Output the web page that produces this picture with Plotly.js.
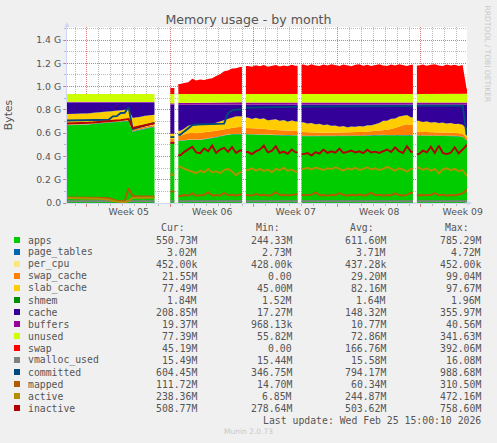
<!DOCTYPE html>
<html><head><meta charset="utf-8">
<script src="https://cdn.plot.ly/plotly-3.0.1.min.js"></script>
<style>html,body{margin:0;padding:0;background:#f0f0f0;overflow:hidden}#chart{width:497px;height:443px}</style>
</head><body><div id="chart"></div>
<script>
// One sample every 8 hours, x = hours since the left edge of the window; null = no data. Values in MiB.
const STEP_H = 8;
const X_RANGE_H = 804.8;
const weekBounds = [40.2, 208.2, 376.2, 544.2, 712.2];
const weekLabelPos = [124.2, 292.2, 460.2, 628.2, 796.2];
const weekLabels = ['Week 05', 'Week 06', 'Week 07', 'Week 08', 'Week 09'];
const yTickVals = [0, 0.2, 0.4, 0.6, 0.8, 1.0, 1.2, 1.4];
const yTickText = ['0.0', '0.2 G', '0.4 G', '0.6 G', '0.8 G', '1.0 G', '1.2 G', '1.4 G'];

const apps = [683,683,686,687,687,689,694,696,698,702,704,707,712,714,717,722,627,635,645,655,661,666,
 null,null,null,null,528,null,
 546,549,554,557,554,554,559,561,569,576,585,595,600,604,604,605,null,
 604,603,602,602,600,598,598,596,595,595,594,593,593,null,
 588,587,587,586,585,585,584,584,585,585,586,586,587,588,589,590,592,594,595,595,596,595,595,594,595,596,595,594,null,
 593,592,592,591,590,590,590,589,589,588,585,580,550.73];
const page_tables = [4.6,4.6,4.5,4.5,4.6,4.5,4.4,4.5,4.5,4.4,4.5,4.6,4.5,4.4,4.5,4.7,4.2,4.1,4.2,4.2,4.1,4.2,
 null,null,null,null,2.8,null,
 3.1,3.3,3.4,3.5,3.4,3.5,3.6,3.5,3.5,3.6,3.5,3.6,3.7,3.6,3.5,3.6,null,
 3.5,3.6,3.5,3.4,3.5,3.6,3.5,3.5,3.4,3.5,3.6,3.5,3.4,null,
 3.4,3.5,3.5,3.6,3.5,3.4,3.5,3.5,3.6,3.5,3.4,3.5,3.5,3.6,3.5,3.5,3.4,3.5,3.6,3.5,3.5,3.4,3.5,3.6,3.5,3.5,3.4,3.5,null,
 3.4,3.5,3.5,3.4,3.5,3.5,3.4,3.5,3.4,3.5,3.4,3.3,3.02];
const per_cpu = [0.42,0.42,0.42,0.42,0.42,0.42,0.42,0.42,0.42,0.42,0.42,0.42,0.42,0.42,0.42,0.42,0.42,0.42,0.42,0.42,0.42,0.42,
 null,null,null,null,0.43,null,
 0.44,0.44,0.44,0.44,0.44,0.44,0.44,0.44,0.44,0.44,0.44,0.44,0.44,0.44,0.44,0.44,null,
 0.44,0.44,0.44,0.44,0.44,0.44,0.44,0.44,0.44,0.44,0.44,0.44,0.44,null,
 0.44,0.44,0.44,0.44,0.44,0.44,0.44,0.44,0.44,0.44,0.44,0.44,0.44,0.44,0.44,0.44,0.44,0.44,0.44,0.44,0.44,0.44,0.44,0.44,0.44,0.44,0.44,0.44,null,
 0.44,0.44,0.44,0.44,0.44,0.44,0.44,0.44,0.44,0.44,0.44,0.44,0.44];
const swap_cache = [0,0,0,0,0,0,0,0,0,0,0,0,0,0,0,0,24,19,16,14,13,13,
 null,null,null,null,31,null,
 39,51,56,59,56,59,57,58,54,55,54,51,53,56,59,59,null,
 52,51,50,49,48,45,43,43,42,40,39,38,36,null,
 33,32,32,31,31,30,30,30,29,29,29,29,30,30,31,31,32,32,33,36,40,46,52,60,72,85,95,88,null,
 30,30,29,29,28,28,27,27,26,26,25,24,21.55];
const slab_cache = [94,94,93,93,94,94,94,94,94,94,95,95,94,95,96,96,92,92,92,92,92,92,
 null,null,null,null,46,null,
 46,49,65,66,68,71,66,67,67,70,77,80,83,90,94,94,null,
 90,80,92,82,91,79,88,93,80,89,78,90,84,null,
 84,75,80,70,76,66,71,60,62,52,56,46,50,46,51,47,54,52,61,67,83,78,89,84,89,79,79,66,null,
 95,86,92,83,89,80,86,78,84,76,82,79,77.49];
const shmem = [1.55,1.55,1.55,1.55,1.55,1.55,1.55,1.55,1.55,1.55,1.55,1.55,1.55,1.55,1.55,1.55,1.55,1.55,1.55,1.55,1.55,1.55,
 null,null,null,null,1.6,null,
 1.6,1.6,1.6,1.6,1.6,1.6,1.6,1.6,1.6,1.6,1.6,1.6,1.6,1.6,1.6,1.6,null,
 1.65,1.65,1.65,1.65,1.65,1.65,1.65,1.65,1.65,1.65,1.65,1.65,1.65,null,
 1.65,1.65,1.65,1.65,1.65,1.65,1.65,1.65,1.65,1.65,1.65,1.65,1.65,1.65,1.65,1.65,1.65,1.65,1.65,1.65,1.65,1.65,1.65,1.65,1.65,1.65,1.65,1.65,null,
 1.7,1.7,1.7,1.7,1.7,1.7,1.7,1.7,1.7,1.7,1.7,1.7,1.84];
const cache = [101,101,99,98,97,95,90,88,86,82,79,76,72,69,65,60,135,132,125,117,112,107,
 null,null,null,null,255,null,
 229,211,185,178,182,176,178,174,170,159,144,134,124,110,103,102,null,
 114,126,116,127,121,138,131,128,143,136,149,139,147,null,
 155,166,161,173,168,179,175,186,184,194,189,199,193,196,189,192,182,182,171,162,141,141,124,122,104,100,91,112,null,
 142,152,147,157,153,162,157,166,161,170,168,177,208.85];
const buffers = [5.2,5.1,5.0,5.0,4.9,5.0,5.1,5.0,4.9,5.0,5.2,5.1,5.0,4.8,4.9,5.0,6.1,5.8,5.6,5.4,5.3,5.2,
 null,null,null,null,12,null,
 15,17,18,18,19,19,18,19,19,20,19,19,20,19,19,20,null,
 19,19,20,19,19,20,19,19,20,19,19,20,19,null,
 19,20,19,19,20,19,19,20,19,19,20,19,19,20,19,19,20,19,19,20,19,19,20,19,19,20,19,19,null,
 19,20,19,19,20,19,19,20,19,19,20,19,19.37];
const unused = [69.8,69.9,70,70,70.1,70,69.9,70,70.1,70,69.8,69.9,70,70.2,70.1,70,68.9,69.2,69.4,69.6,69.7,69.8,
 null,null,null,null,82,null,
 79,77,76,76,75,75,76,75,75,74,75,75,74,75,75,74,null,
 75,75,74,75,75,74,75,75,74,75,75,74,75,null,
 75,74,75,75,74,75,75,74,75,75,74,75,75,74,75,75,74,75,75,74,75,75,74,75,75,74,75,75,null,
 75,74,75,75,74,75,75,74,75,75,74,75,77.39];
const swap = [0,0,0,0,0,0,0,0,0,0,0,0,0,0,0,0,0,0,0,0,0,0,
 null,null,null,null,53,null,
 88,96,103,134,118,127,122,132,138,158,174,199,205,224,226,236,null,
 246,238,252,243,254,240,250,255,242,251,244,256,248,null,
 258,247,260,250,246,259,249,262,252,245,258,254,244,256,260,248,257,246,255,261,250,245,258,249,262,251,246,257,null,
 250,259,247,256,262,249,245,258,251,257,246,254,45.19];
const vmalloc_used = [15.6,15.6,15.6,15.7,15.6,15.6,15.6,15.7,15.6,15.6,15.6,15.6,15.7,15.6,15.6,15.8,15.5,15.5,15.5,15.5,15.5,15.5,
 null,null,null,null,15.5,null,
 15.5,15.6,15.5,15.5,15.6,15.5,15.5,15.6,15.5,15.5,15.6,15.5,15.5,15.6,15.5,15.5,null,
 15.6,15.5,15.5,15.6,15.5,15.5,15.6,15.5,15.5,15.6,15.5,15.5,15.6,null,
 15.5,15.5,15.6,15.5,15.5,15.6,15.5,15.5,15.6,15.5,15.5,15.6,15.5,15.5,15.6,15.5,15.5,15.6,15.5,15.5,15.6,15.5,15.5,15.6,15.5,15.5,15.6,15.5,null,
 15.5,15.6,15.5,15.5,15.6,15.5,15.5,15.6,15.5,15.5,15.6,15.5,15.49];
const committed = [726,727,727,728,728,729,729,730,731,731,732,762,764,792,794,845,650,662,672,680,690,705,
 null,null,null,null,580,null,
 600,630,660,685,690,692,692,693,694,695,696,698,790,815,820,822,null,
 838,840,841,842,842,843,843,844,844,845,845,846,846,null,
 848,848,849,849,849,850,850,850,850,851,851,851,851,851,852,852,852,852,852,852,853,853,853,853,853,853,853,853,null,
 855,855,855,855,855,855,855,855,855,855,855,855,604.45];
const mapped = [48,50,49,49,48,48,47,47,45,44,42,30,20,15,14.7,130,62,60,58,57,57,56,
 null,null,null,null,100,null,
 62,70,66,85,64,68,72,95,66,70,65,90,68,72,66,75,null,
 70,65,80,68,72,66,70,98,68,72,66,70,78,null,
 70,66,72,95,68,70,65,72,68,88,70,66,72,68,75,66,70,92,68,72,66,70,68,85,70,66,72,90,null,
 68,72,66,70,88,68,72,66,70,68,75,85,111.72];
const active = [44,42,41,41,40,40,39,38,36,34,30,20,12,8,6.85,20,45,47,46,47,46,47,
 null,null,null,null,250,null,
 320,300,290,275,262,285,270,300,268,280,262,290,300,278,245,270,null,
 290,305,285,300,280,295,270,300,288,310,282,295,275,null,
 300,310,295,312,300,290,305,298,315,300,285,305,295,310,290,300,315,295,305,290,300,318,300,285,305,295,275,300,null,
 310,292,305,285,300,260,295,305,288,300,280,290,238.36];
const inactive = [700,701,702,703,704,706,708,710,713,716,719,722,726,729,733,738,660,668,678,688,696,702,
 null,null,null,null,529,null,
 420,450,470,495,445,438,480,455,505,440,470,485,450,492,440,462,null,
 448,430,455,470,505,445,458,500,440,452,432,470,445,null,
 430,440,418,448,435,470,440,455,442,478,440,450,462,445,455,438,468,445,452,440,458,470,448,490,455,440,500,450,null,
 430,460,445,495,440,505,440,430,442,490,438,470,508.77];

// legend table
const legendNames = ['apps','page_tables','per_cpu','swap_cache','slab_cache','shmem','cache','buffers','unused','swap','vmalloc_used','committed','mapped','active','inactive'];
const curVals = ['550.73M','3.02M','452.00k','21.55M','77.49M','1.84M','208.85M','19.37M','77.39M','45.19M','15.49M','604.45M','111.72M','238.36M','508.77M'];
const minVals = ['244.33M','2.73M','428.00k','0.00','45.00M','1.52M','17.27M','968.13k','55.82M','0.00','15.44M','346.75M','14.70M','6.85M','278.64M'];
const avgVals = ['611.60M','3.71M','437.28k','29.20M','82.16M','1.64M','148.32M','10.77M','72.86M','166.76M','15.58M','794.17M','60.34M','244.87M','503.62M'];
const maxVals = ['785.29M','4.72M','452.00k','99.04M','97.67M','1.96M','355.97M','40.56M','341.63M','392.06M','16.08M','988.68M','310.50M','472.16M','758.60M'];

// styles
const colors = {apps:'#00CC00',page_tables:'#0066B3',per_cpu:'#FFE680',swap_cache:'#FF8000',slab_cache:'#FFCC00',shmem:'#008F00',cache:'#330099',buffers:'#990099',unused:'#CCFF00',swap:'#FF0000',vmalloc_used:'#808080',committed:'#00487D',mapped:'#B35A00',active:'#B38F00',inactive:'#B30000'};
const series = {apps,page_tables,per_cpu,swap_cache,slab_cache,shmem,cache,buffers,unused,swap,vmalloc_used,committed,mapped,active,inactive};
const stackOrder = ['apps','page_tables','per_cpu','swap_cache','slab_cache','shmem','cache','buffers','unused','swap'];
const lineOrder = ['vmalloc_used','committed','mapped','active','inactive'];

const N = apps.length;
const hours = apps.map((_, i) => i * STEP_H);
const runs = [];
let st = null;
for (let i = 0; i < N; i++) {
  if (apps[i] !== null) { if (st === null) st = i; }
  else if (st !== null) { runs.push([st, i - 1]); st = null; }
}
if (st !== null) runs.push([st, N - 1]);

// each sample is drawn at the middle of its interval; a run is held flat out to its interval edges
function runX(a, b) {
  const xs = [hours[a]];
  for (let i = a; i <= b; i++) xs.push(hours[i] + STEP_H / 2);
  xs.push(hours[b] + STEP_H);
  return xs;
}
function runY(vals) { return [vals[0]].concat(vals, [vals[vals.length - 1]]); }

const traces = [];
runs.forEach(([a, b]) => {
  const xs = runX(a, b);
  const cum = new Array(b - a + 1).fill(0);
  stackOrder.forEach((name, k) => {
    const d = series[name];
    const vals = [];
    for (let i = a; i <= b; i++) { cum[i - a] += d[i]; vals.push(cum[i - a] / 1024); }
    traces.push({x: xs, y: runY(vals), type: 'scatter', mode: 'lines', line: {width: 0, color: colors[name]},
      fill: k === 0 ? 'tozeroy' : 'tonexty', fillcolor: colors[name], hoverinfo: 'skip', showlegend: false});
  });
});
runs.forEach(([a, b]) => {
  const xs = runX(a, b);
  lineOrder.forEach(name => {
    const vals = series[name].slice(a, b + 1).map(v => v / 1024);
    traces.push({x: xs, y: runY(vals), type: 'scatter', mode: 'lines', line: {width: 1.9, color: colors[name]},
      hoverinfo: 'skip', showlegend: false});
  });
});
traces.push({x: [weekBounds[0]], y: [0], xaxis: 'x2', type: 'scatter', mode: 'markers', marker: {opacity: 0}, hoverinfo: 'skip', showlegend: false});

// geometry helpers (pixel -> paper)
const PL = 67, PT = 27, PW = 400, PH = 176;
const px2x = p => (p - PL) / PW;
const py2y = p => (PT + PH - p) / PH;

const txt = '#555555';
const mono = 'DejaVu Sans Mono';
const annotations = [];
const shapes = [];
const colEnds = [199, 294, 388, 483];
const headers = ['Cur:', 'Min:', 'Avg:', 'Max:'];
headers.forEach((h, c) => annotations.push({xref: 'paper', yref: 'paper', x: px2x(colEnds[c] - 11.8), y: py2y(227.5), text: h, showarrow: false, xanchor: 'right', yanchor: 'middle', font: {family: mono, size: 9.8, color: txt}}));
legendNames.forEach((name, i) => {
  const cy = 240 + 12 * i;
  shapes.push({type: 'rect', xref: 'paper', yref: 'paper', x0: px2x(14), x1: px2x(20), y0: py2y(cy + 3), y1: py2y(cy - 3), fillcolor: colors[name], line: {width: 0}});
  annotations.push({xref: 'paper', yref: 'paper', x: px2x(25.5), y: py2y(cy), text: name, showarrow: false, xanchor: 'left', yanchor: 'middle', font: {family: mono, size: 9.8, color: txt}});
  [curVals, minVals, avgVals, maxVals].forEach((arr, c) => annotations.push({xref: 'paper', yref: 'paper', x: px2x(colEnds[c]), y: py2y(cy), text: arr[i], showarrow: false, xanchor: 'right', yanchor: 'middle', font: {family: mono, size: 9.8, color: txt}}));
});
annotations.push({xref: 'paper', yref: 'paper', x: px2x(483), y: py2y(420), text: 'Last update: Wed Feb 25 15:00:10 2026', showarrow: false, xanchor: 'right', yanchor: 'middle', font: {family: mono, size: 9.8, color: txt}});
annotations.push({xref: 'paper', yref: 'paper', x: px2x(248), y: py2y(432), text: 'Munin 2.0.73', showarrow: false, xanchor: 'center', yanchor: 'middle', font: {family: 'DejaVu Sans', size: 7.5, color: '#c8c8c8'}});
annotations.push({xref: 'paper', yref: 'paper', x: px2x(487), y: py2y(53.5), text: 'RRDTOOL / TOBI OETIKER', textangle: 90, showarrow: false, xanchor: 'center', yanchor: 'middle', font: {family: 'DejaVu Sans', size: 7.5, color: '#c8c8c8'}});
// axis arrows
annotations.push({xref: 'paper', yref: 'paper', x: px2x(472), y: 0, ax: -8, ay: 0, text: '', showarrow: true, arrowhead: 2, arrowsize: 1, arrowwidth: 1, arrowcolor: '#CFD6F8'});
annotations.push({xref: 'paper', yref: 'paper', x: 0, y: py2y(22), ax: 0, ay: 8, text: '', showarrow: true, arrowhead: 2, arrowsize: 1, arrowwidth: 1, arrowcolor: '#CFD6F8'});

const gridGrey = 'rgba(143,143,143,0.6)';
const gridRed = 'rgba(222,79,79,0.6)';
const layout = {
  width: 497, height: 443,
  margin: {l: PL, r: 497 - PL - PW, t: PT, b: 443 - PT - PH, pad: 0},
  paper_bgcolor: '#f0f0f0', plot_bgcolor: '#ffffff',
  title: {text: 'Memory usage - by month', font: {family: 'DejaVu Sans', size: 12.6, color: txt}, x: 0.5, xref: 'container', xanchor: 'center', y: 1 - 20 / 443, yref: 'container', yanchor: 'middle'},
  xaxis: {range: [0, X_RANGE_H], tickmode: 'array', tickvals: weekLabelPos, ticktext: weekLabels, ticks: '', showgrid: false, zeroline: false,
    showline: true, linecolor: '#CFD6F8', linewidth: 1, tickfont: {family: 'DejaVu Sans', size: 9.3, color: txt},
    minor: {tick0: 16.2, dtick: 24, showgrid: true, gridcolor: gridGrey, griddash: '1px,1px', gridwidth: 1, ticks: 'outside', ticklen: 2, tickcolor: '#bbbbbb'},
    fixedrange: true},
  xaxis2: {overlaying: 'x', anchor: 'y', side: 'bottom', range: [0, X_RANGE_H], tickmode: 'array', tickvals: weekBounds, showticklabels: false,
    ticks: 'outside', ticklen: 3, tickcolor: gridRed, showgrid: true, gridcolor: gridRed, griddash: '1px,1px', gridwidth: 1, zeroline: false, showline: false, fixedrange: true},
  yaxis: {range: [0, 1.512], tickmode: 'array', tickvals: yTickVals, ticktext: yTickText, showgrid: true, gridcolor: gridRed, griddash: '1px,1px', gridwidth: 1,
    ticks: 'outside', ticklen: 3, tickcolor: gridRed, zeroline: false, showline: true, linecolor: '#CFD6F8', linewidth: 1,
    tickfont: {family: 'DejaVu Sans', size: 9.3, color: txt},
    minor: {tick0: 0, dtick: 0.1, showgrid: true, gridcolor: gridGrey, griddash: '1px,1px', gridwidth: 1, ticks: 'outside', ticklen: 2, tickcolor: '#bbbbbb'},
    title: {text: 'Bytes', font: {family: 'DejaVu Sans', size: 10.8, color: txt}, standoff: 20.5}, fixedrange: true},
  annotations, shapes,
  showlegend: false
};
Plotly.newPlot('chart', traces, layout, {staticPlot: true, displayModeBar: false});
</script>
</body></html>
